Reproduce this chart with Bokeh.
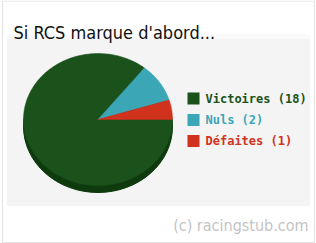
import numpy as np
from bokeh.plotting import figure
from bokeh.models import ColumnDataSource
from bokeh.core.properties import value
from bokeh.embed import file_html
from bokeh.resources import INLINE

labels = ["Victoires", "Nuls", "Défaites"]
counts = [18, 2, 1]
colors = ["#1b521b", "#3aa6b6", "#d0321e"]
title = "Si RCS marque d'abord..."
credit = "(c) racingstub.com"

W, H = 316, 243
p = figure(width=W, height=H, x_range=(0, W), y_range=(0, H),
           output_backend="svg", toolbar_location=None, min_border=0)
p.axis.visible = False
p.grid.visible = False
p.outline_line_color = None
p.background_fill_color = "white"
p.border_fill_color = "white"


def px(X):
    return X


def py(Y):
    return H - Y


# card border
p.quad(left=px(2), right=px(314), top=py(0.5), bottom=py(242), fill_color=None,
       line_color="#e2e2e2", line_width=1)

# panel
p.quad(left=px(7), right=px(309), top=py(34), bottom=py(39), color="#fafafa")
p.quad(left=px(7), right=px(309), top=py(39), bottom=py(205), color="#f4f4f4")

# pie (elliptical, with shadow)
total = sum(counts)
fr = np.cumsum([0] + counts) / total
cx, cy, rx, ry = px(97.5), py(119), 74.5, 66
p.ellipse(x=cx, y=cy - 7, width=2 * rx, height=2 * ry, color="#0e3a0e")
xs, ys = [], []
for i in range(len(counts)):
    t = np.linspace(-2 * np.pi * fr[i], -2 * np.pi * fr[i + 1], 240)
    xs.append([cx] + list(cx + rx * np.cos(t)))
    ys.append([cy] + list(cy + ry * np.sin(t)))
p.patches(xs=xs, ys=ys, fill_color=colors, line_color=colors, line_width=0.5)

# legend
ly = [py(98), py(119.5), py(140.5)]
p.rect(x=[px(193)] * 3, y=ly, width=12, height=12, width_units="screen",
       height_units="screen", fill_color=colors, line_color=None)
leg = ColumnDataSource(dict(x=[px(205)] * 3, y=ly,
                            t=[f"{l} ({c})" for l, c in zip(labels, counts)],
                            c=colors))
p.text(x="x", y="y", text="t", text_color="c", source=leg,
       text_font=value("DejaVu Sans Mono"), text_font_style="bold",
       text_font_size="12px", text_baseline="middle")

# title and credit
cond = value("'DejaVu Sans Condensed', 'Liberation Sans Narrow', Roboto")
p.text(x=[px(13)], y=[py(32)], text=[title], text_font=cond,
       text_font_size="18px", text_color="#111111", text_baseline="alphabetic")
p.text(x=[px(308)], y=[py(225)], text=[credit], text_font=cond,
       text_font_size="16px", text_color="#c4c4c4", text_baseline="alphabetic",
       text_align="right")

open("out.html", "w").write(file_html(p, INLINE))
